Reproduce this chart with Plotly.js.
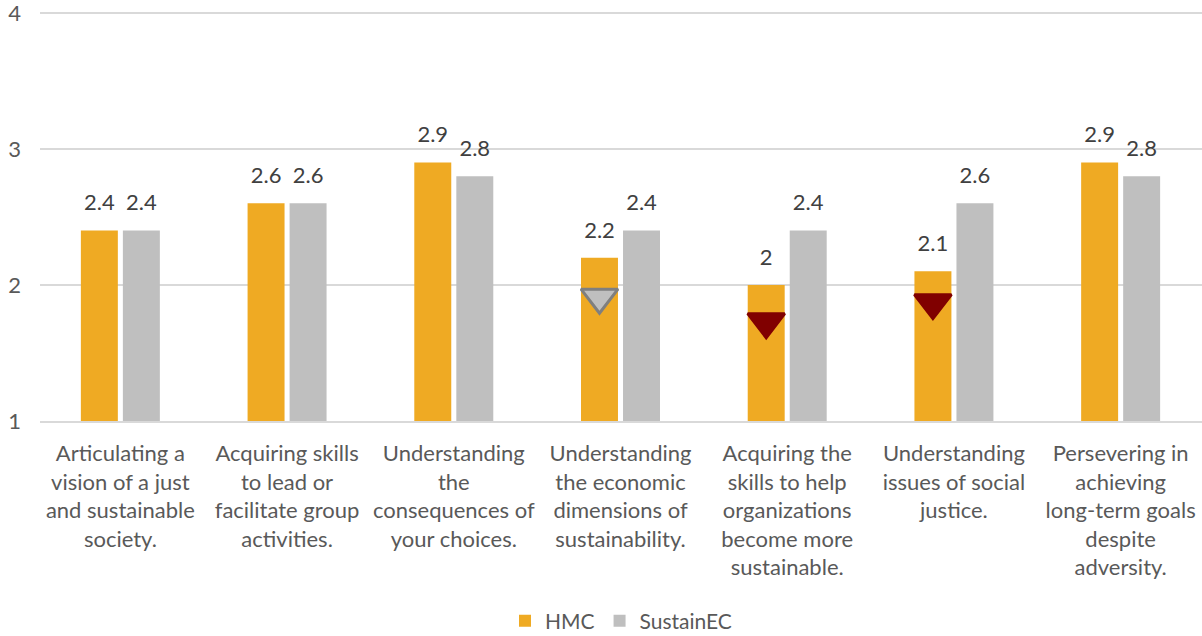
<!DOCTYPE html>
<html>
<head>
<meta charset="utf-8">
<script src="https://cdn.plot.ly/plotly-3.0.1.min.js"></script>
<style>html,body{margin:0;padding:0;background:#fff;}#chart{width:1202px;height:636px;}</style>
</head>
<body>
<div id="chart"></div>
<script>
const categories = [
  "Articulating a<br>vision of a just<br>and sustainable<br>society.",
  "Acquiring skills<br>to lead or<br>facilitate group<br>activities.",
  "Understanding<br>the<br>consequences of<br>your choices.",
  "Understanding<br>the economic<br>dimensions of<br>sustainability.",
  "Acquiring the<br>skills to help<br>organizations<br>become more<br>sustainable.",
  "Understanding<br>issues of social<br>justice.",
  "Persevering in<br>achieving<br>long-term goals<br>despite<br>adversity."
];
const hmc = [2.4, 2.6, 2.9, 2.2, 2.0, 2.1, 2.9];
const sustainEC = [2.4, 2.6, 2.8, 2.4, 2.4, 2.6, 2.8];
const markerValues = [null, null, null, 1.91, 1.73, 1.87, null];
const markerFill = ["#800000","#800000","#800000","#BFBFBF","#800000","#800000","#800000"];
const markerEdge = ["#800000","#800000","#800000","#7F7F7F","#800000","#800000","#800000"];
const yTicks = [1, 2, 3, 4];

const FONT = "Lato, 'Open Sans', sans-serif";
const HMC_COLOR = "#EFAA23";
const SEC_COLOR = "#BFBFBF";

const traces = [
  {type: "bar", name: "HMC", x: categories, y: hmc, marker: {color: HMC_COLOR},
   offsetgroup: "a", hoverinfo: "y"},
  {type: "bar", name: "SustainEC", x: categories, y: sustainEC, marker: {color: SEC_COLOR},
   offsetgroup: "b", hoverinfo: "y"},
  {type: "scatter", mode: "markers+text", x: categories, y: hmc, offsetgroup: "a",
   text: hmc.map(String), textposition: "top center",
   textfont: {family: FONT, size: 22, color: "#404040"},
   marker: {size: 22, color: "rgba(0,0,0,0)"}, showlegend: false, hoverinfo: "skip", cliponaxis: false},
  {type: "scatter", mode: "markers+text", x: categories, y: sustainEC, offsetgroup: "b",
   text: sustainEC.map(String), textposition: "top center",
   textfont: {family: FONT, size: 22, color: "#404040"},
   marker: {size: 22, color: "rgba(0,0,0,0)"}, showlegend: false, hoverinfo: "skip", cliponaxis: false},
  {type: "scatter", mode: "markers", x: categories, y: markerValues, offsetgroup: "a",
   marker: {symbol: "triangle-down", size: 32, color: markerFill, line: {color: markerEdge, width: 3}},
   showlegend: false, hoverinfo: "skip"}
];

const layout = {
  width: 1202, height: 636,
  margin: {l: 40, r: 0, t: 2, b: 215, autoexpand: false},
  paper_bgcolor: "#fff", plot_bgcolor: "#fff",
  barmode: "group", bargap: 0.496, bargroupgap: 0.12,
  scattermode: "group", scattergap: 0.496,
  font: {family: FONT, color: "#595959"},
  xaxis: {type: "category", range: [-0.482, 6.488], showgrid: false,
          showline: true, linecolor: "#D9D9D9", linewidth: 1.5,
          tickfont: {family: FONT, size: 22, color: "#595959"},
          ticks: "", ticklabelstandoff: 12, tickangle: 0, ticklabeloverflow: "allow"},
  yaxis: {range: [1, 4.08], tickvals: yTicks, showgrid: true, gridcolor: "#D9D9D9", gridwidth: 1.5,
          zeroline: false, showline: false, ticks: "", ticklabeloverflow: "allow",
          tickfont: {family: FONT, size: 22, color: "#595959"}, ticklabelstandoff: 18},
  legend: {orientation: "h", x: 0.5, xanchor: "center", yref: "container", y: 0.0236, yanchor: "middle",
           font: {family: FONT, size: 21, color: "#595959"}, traceorder: "normal"},
  showlegend: true
};

Plotly.newPlot("chart", traces, layout, {displayModeBar: false, staticPlot: true});
</script>
</body>
</html>
